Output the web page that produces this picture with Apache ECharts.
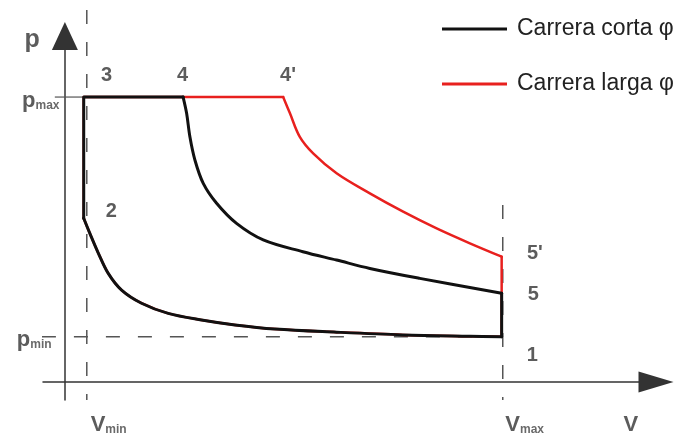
<!DOCTYPE html>
<html>
<head>
<meta charset="utf-8">
<script src="https://cdn.jsdelivr.net/npm/echarts@6/dist/echarts.min.js"></script>
<style>html,body{margin:0;padding:0;background:#fff}#c{width:679px;height:439px}</style>
</head>
<body>
<div id="c"></div>
<script>
// ---- data (arbitrary V and p units) ----
const seriesNames = ['Carrera corta φ', 'Carrera larga φ'];
const Vmin = 1, Vmax = 20, pmin = 2, pmax = 12.6;
const VcycleLeft = 0.86, VcycleRight = 19.95;
const p1 = 2.0, p2 = 7.24;
const V4 = 5.40, V4p = 9.97;
// compression 1 -> 2 (shared by both cycles)
const compressionV = [19.95, 18.5, 15.44, 12.41, 9.59, 7.77, 6.24, 4.72, 3.5, 2.59, 1.98, 1.53, 1.14, 0.86];
const compressionP = [2.0, 2.02, 2.08, 2.2, 2.34, 2.52, 2.74, 3.03, 3.48, 4.06, 4.8, 5.69, 6.57, 7.24];
// expansion 4 -> 5 (short stroke)
const expansionShortV = [5.40, 5.56, 5.71, 5.94, 6.32, 6.93, 7.84, 9.06, 10.87, 12.41, 13.93, 16.21, 19.95];
const expansionShortP = [12.6, 11.88, 10.84, 9.81, 8.78, 7.9, 7.01, 6.28, 5.76, 5.39, 5.02, 4.58, 3.92];
// expansion 4' -> 5' (long stroke)
const expansionLongV = [9.97, 10.28, 10.73, 11.34, 12.41, 13.93, 15.45, 16.98, 18.5, 19.95];
const expansionLongP = [12.6, 11.88, 10.84, 10.11, 9.23, 8.34, 7.53, 6.79, 6.13, 5.54];
// labels
const labelTexts = ['{t|p}', '{m|p}{s|max}', '{m|p}{s|min}', '{m|V}{s|min}', '{m|V}{s|max}', '{m|V}', '3', '4', "4'", '2', "5'", '5', '1'];
const labelV = [-1.5, -1.1, -1.4, 2.0, 21.0, 25.85, 1.9, 5.37, 10.19, 2.12, 21.47, 21.4, 21.35];
const labelP = [15.1, 12.42, 1.85, -1.91, -1.91, -1.91, 13.57, 13.57, 13.57, 7.54, 5.68, 3.87, 1.17];

function zip(a, b) { return a.map((v, i) => [v, b[i]]); }

const chart = echarts.init(document.getElementById('c'), null, {renderer: 'canvas'});
const dashStyle = {color: '#555', width: 1.5, type: [14, 18]};
const fam = 'Liberation Sans, Arial, sans-serif';
const axisCommon = {
  type: 'value',
  axisTick: {show: false}, axisLabel: {show: false}, splitLine: {show: false}
};

function cycleSeries(name, color, width, expV, expP, V4x) {
  const base = {name: name, type: 'line', symbol: 'none', color: color, silent: true,
    lineStyle: {color: color, width: width, join: 'round', cap: 'round'}};
  return [
    Object.assign({}, base, {smooth: 0.35, data: zip(compressionV, compressionP)}),
    Object.assign({}, base, {data: [[VcycleLeft, p2], [VcycleLeft, pmax], [V4x, pmax]]}),
    Object.assign({}, base, {smooth: 0.35, data: zip(expV, expP)}),
    Object.assign({}, base, {data: [[VcycleRight, expP[expP.length - 1]], [VcycleRight, p1]]})
  ];
}

chart.setOption({
  animation: false,
  backgroundColor: '#fff',
  grid: {left: 43, right: 23, top: 36, bottom: 39},
  legend: {
    data: seriesNames, orient: 'vertical', left: 437, top: 12,
    icon: 'rect', itemWidth: 65, itemHeight: 3, itemGap: 31,
    textStyle: {fontSize: 23, color: '#222', fontFamily: fam, lineHeight: 24, padding: [0, 0, 0, 5]}
  },
  xAxis: Object.assign({}, axisCommon, {
    min: -1, max: 27,
    axisLine: {onZero: true, lineStyle: {color: '#333', width: 1.5}, symbol: ['none', 'triangle'], symbolSize: [21, 35]}
  }),
  yAxis: Object.assign({}, axisCommon, {
    min: -0.8, max: 15.3,
    axisLine: {onZero: true, lineStyle: {color: '#333', width: 1.5}, symbol: ['none', 'triangle'], symbolSize: [26, 28]}
  }),
  series: [
    {type: 'line', silent: true, clip: false, symbol: 'none', lineStyle: dashStyle,
     data: [[Vmin, 16.45], [Vmin, -0.8]]},
    {type: 'line', silent: true, clip: false, symbol: 'none', lineStyle: dashStyle,
     data: [[Vmax, 7.82], [Vmax, -0.8]]},
    {type: 'line', silent: true, clip: false, symbol: 'none', lineStyle: dashStyle,
     data: [[-1.05, pmin], [Vmax, pmin]]},
    {type: 'line', silent: true, clip: false, symbol: 'none', lineStyle: {color: '#555', width: 1.2},
     data: [[-0.46, pmax], [VcycleLeft, pmax]]}
  ].concat(
    cycleSeries(seriesNames[1], '#e8201e', 2.5, expansionLongV, expansionLongP, V4p),
    cycleSeries(seriesNames[0], '#111', 3, expansionShortV, expansionShortP, V4),
    [{type: 'scatter', silent: true, clip: false, symbolSize: 0,
     data: labelV.map((v, i) => [v, labelP[i], labelTexts[i]]),
     label: {
       show: true, position: 'inside', formatter: p => p.data[2],
       fontSize: 20, fontWeight: 'bold', color: '#333', fontFamily: fam,
       rich: {
         t: {fontSize: 25, fontWeight: 'bold', color: '#333', fontFamily: fam},
         m: {fontSize: 22, fontWeight: 'bold', color: '#333', fontFamily: fam},
         s: {fontSize: 12, fontWeight: 'bold', color: '#444', fontFamily: fam, verticalAlign: 'bottom'}
       }
     }}]
  )
});
</script>
</body>
</html>
